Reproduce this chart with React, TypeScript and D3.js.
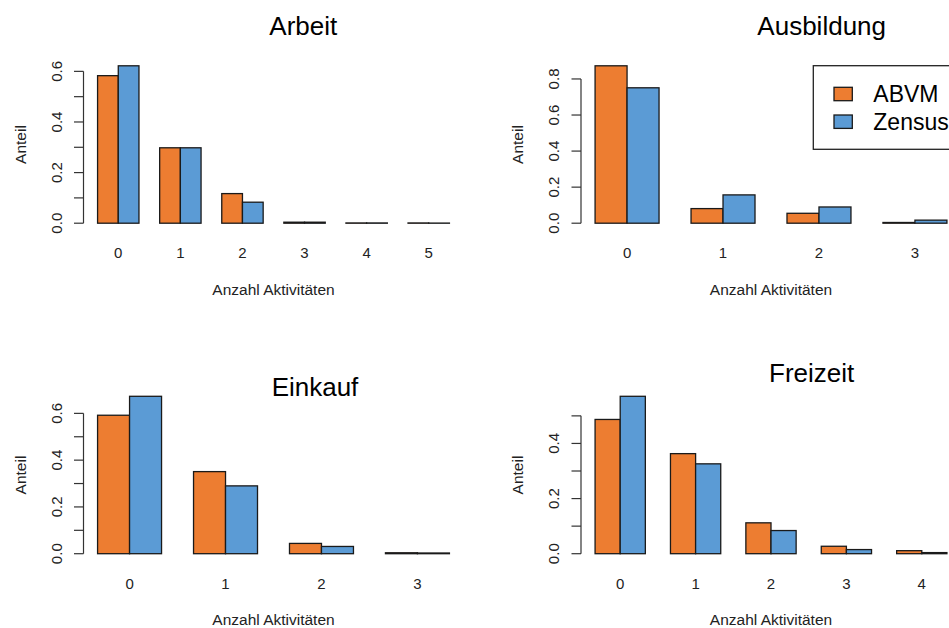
import React from "react";
import * as d3 from "d3";

// ---- data ----
const arbeitCats = ["0", "1", "2", "3", "4", "5"];
const arbeitABVM = [0.583, 0.298, 0.117, 0.004, 0.001, 0.001];
const arbeitZensus = [0.622, 0.298, 0.083, 0.004, 0.001, 0.0005];
const arbeitTicks = [0, 0.1, 0.2, 0.3, 0.4, 0.5, 0.6];
const arbeitTickLabels = ["0.0", "", "0.2", "", "0.4", "", "0.6"];

const ausbildungCats = ["0", "1", "2", "3"];
const ausbildungABVM = [0.873, 0.081, 0.055, 0.004];
const ausbildungZensus = [0.751, 0.157, 0.09, 0.017];
const ausbildungTicks = [0, 0.2, 0.4, 0.6, 0.8];
const ausbildungTickLabels = ["0.0", "0.2", "0.4", "0.6", "0.8"];

const einkaufCats = ["0", "1", "2", "3"];
const einkaufABVM = [0.592, 0.351, 0.044, 0.004];
const einkaufZensus = [0.673, 0.29, 0.031, 0.003];
const einkaufTicks = [0, 0.1, 0.2, 0.3, 0.4, 0.5, 0.6];
const einkaufTickLabels = ["0.0", "", "0.2", "", "0.4", "", "0.6"];

const freizeitCats = ["0", "1", "2", "3", "4"];
const freizeitABVM = [0.487, 0.363, 0.112, 0.027, 0.011];
const freizeitZensus = [0.571, 0.326, 0.084, 0.015, 0.004];
const freizeitTicks = [0, 0.1, 0.2, 0.3, 0.4, 0.5];
const freizeitTickLabels = ["0.0", "", "0.2", "", "0.4", ""];

const seriesNames = ["ABVM", "Zensus"];
const seriesColors = ["#ED7D31", "#5B9BD5"];
const xAxisTitle = "Anzahl Aktivitäten";
const yAxisTitle = "Anteil";

// ---- layout ----
const PLOT_W = 380;
const PLOT_H = 170;
const FONT = "'Liberation Sans', Arial, Helvetica, sans-serif";

const panels = [
  { title: "Arbeit", cats: arbeitCats, a: arbeitABVM, z: arbeitZensus, ticks: arbeitTicks, tickLabels: arbeitTickLabels, left: 83.5, top: 59.5, titleX: 303.3, titleY: 35 },
  { title: "Ausbildung", cats: ausbildungCats, a: ausbildungABVM, z: ausbildungZensus, ticks: ausbildungTicks, tickLabels: ausbildungTickLabels, left: 581, top: 59.5, titleX: 821.7, titleY: 35 },
  { title: "Einkauf", cats: einkaufCats, a: einkaufABVM, z: einkaufZensus, ticks: einkaufTicks, tickLabels: einkaufTickLabels, left: 83.5, top: 390, titleX: 315, titleY: 395.7 },
  { title: "Freizeit", cats: freizeitCats, a: freizeitABVM, z: freizeitZensus, ticks: freizeitTicks, tickLabels: freizeitTickLabels, left: 581, top: 390, titleX: 811.7, titleY: 381.7 },
];

function Panel({ p }: { p: any }) {
  const n = p.cats.length;
  const span = 3 * n - 1;
  const x = d3
    .scaleLinear()
    .domain([1 - 0.04 * span, 3 * n + 0.04 * span])
    .range([p.left, p.left + PLOT_W]);
  const maxV = d3.max([...p.a, ...p.z]) as number;
  const y = d3
    .scaleLinear()
    .domain([-0.04 * maxV, 1.04 * maxV])
    .range([p.top + PLOT_H, p.top]);
  const bottom = p.top + PLOT_H;
  const series = [p.a, p.z];
  const lastTick = p.ticks[p.ticks.length - 1];
  return (
    <g>
      {p.cats.map((c: string, i: number) =>
        series.map((vals: number[], s: number) => {
          const x0 = x(3 * i + 1 + s);
          const x1 = x(3 * i + 2 + s);
          const y0 = y(vals[i]);
          const y1 = y(0);
          return (
            <rect
              key={c + "-" + s}
              x={x0}
              y={y0}
              width={x1 - x0}
              height={Math.max(0.001, y1 - y0)}
              fill={seriesColors[s]}
              stroke="#1a1a1a"
              strokeWidth={1.3}
            />
          );
        })
      )}
      {/* y axis */}
      <line x1={p.left} x2={p.left} y1={y(0)} y2={y(lastTick)} stroke="#333" strokeWidth={1.2} />
      {p.ticks.map((t: number, i: number) => (
        <g key={"t" + i}>
          <line x1={p.left - 9.5} x2={p.left} y1={y(t)} y2={y(t)} stroke="#333" strokeWidth={1.2} />
          {p.tickLabels[i] ? (
            <text
              transform={`translate(${p.left - 22},${y(t)}) rotate(-90)`}
              textAnchor="middle"
              fontSize={15}
              fill="#222"
              fontFamily={FONT}
            >
              {p.tickLabels[i]}
            </text>
          ) : null}
        </g>
      ))}
      {/* x category labels */}
      {p.cats.map((c: string, i: number) => (
        <text key={"c" + i} x={x(3 * i + 2)} y={bottom + 28.7} textAnchor="middle" fontSize={15} fill="#222" fontFamily={FONT}>
          {c}
        </text>
      ))}
      <text x={p.left + PLOT_W / 2} y={bottom + 65.4} textAnchor="middle" fontSize={15.5} fill="#222" fontFamily={FONT}>
        {xAxisTitle}
      </text>
      <text
        transform={`translate(${p.left - 58},${p.top + PLOT_H / 2}) rotate(-90)`}
        textAnchor="middle"
        fontSize={15.5}
        fill="#222"
        fontFamily={FONT}
      >
        {yAxisTitle}
      </text>
      <text x={p.titleX} y={p.titleY} textAnchor="middle" fontSize={26} fill="#000" fontFamily={FONT}>
        {p.title}
      </text>
    </g>
  );
}

export default function App() {
  return (
    <svg width={949} height={628} style={{ position: "absolute", left: 0, top: 0, background: "#fff" }}>
      <rect x={0} y={0} width={949} height={628} fill="#fff" />
      {panels.map((p) => (
        <Panel key={p.title} p={p} />
      ))}
      {/* legend */}
      <g>
        <rect x={813.3} y={65.7} width={160} height={83.6} fill="#fff" stroke="#222" strokeWidth={1.3} />
        {seriesNames.map((name, i) => (
          <g key={name}>
            <rect x={834} y={87.3 + i * 27.7} width={18.3} height={13.4} fill={seriesColors[i]} stroke="#1a1a1a" strokeWidth={1.3} />
            <text x={873.3} y={102.3 + i * 27.7} fontSize={23} fill="#000" fontFamily={FONT}>
              {name}
            </text>
          </g>
        ))}
      </g>
    </svg>
  );
}
